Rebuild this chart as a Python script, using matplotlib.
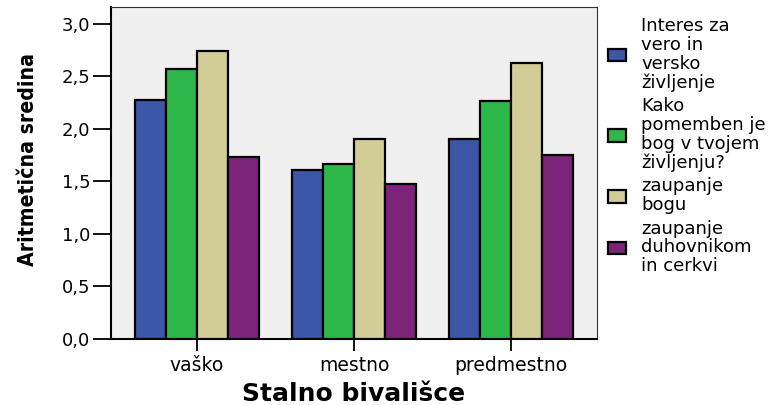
import numpy as np
import matplotlib.pyplot as plt
from matplotlib.patches import Patch
from matplotlib.ticker import FuncFormatter

categories = ["vaško", "mestno", "predmestno"]
series_names = ["Interes za\nvero in\nversko\nživljenje",
                "Kako\npomemben je\nbog v tvojem\nživljenju?",
                "zaupanje\nbogu",
                "zaupanje\nduhovnikom\nin cerkvi"]
interes = [2.28, 1.61, 1.90]
pomemben = [2.57, 1.67, 2.27]
zaupanje_bog = [2.74, 1.90, 2.63]
zaupanje_cerkev = [1.73, 1.48, 1.75]
colors = ["#3c56a8", "#2fb84a", "#d2cd96", "#7b2479"]

plt.rcParams['font.family'] = ['DejaVu Sans']

fig = plt.figure(figsize=(7.8, 4.05), dpi=100)
ax = fig.add_axes([0.1423, 0.163, 0.6231, 0.8185])
ax.set_facecolor("#f0f0f0")

x = np.arange(len(categories))
width = 0.197
all_series = [interes, pomemben, zaupanje_bog, zaupanje_cerkev]
for i, vals in enumerate(all_series):
    ax.bar(x + (i - 1.5) * width, vals, width, color=colors[i],
           edgecolor="black", linewidth=1.6, zorder=3)

ax.set_xlim(-0.548, 2.548)
ax.set_ylim(0, 3.157)
ax.set_yticks(np.arange(0, 3.01, 0.5))
ax.yaxis.set_major_formatter(FuncFormatter(lambda v, p: f"{v:.1f}".replace(".", ",")))
ax.set_xticks(x)
ax.set_xticklabels(categories)
ax.tick_params(axis="y", length=13, width=1.3, labelsize=13, pad=2)
ax.tick_params(axis="x", length=8.5, width=1.3, labelsize=13.5, pad=4)

for s in ["left", "bottom"]:
    ax.spines[s].set_linewidth(1.5)
for s in ["top", "right"]:
    ax.spines[s].set_linewidth(0.8)
    ax.spines[s].set_color("#333333")

ax.set_ylabel("Aritmetična sredina", family="DejaVu Sans", stretch="condensed",
              fontsize=15.2, fontweight="bold")
ax.yaxis.set_label_coords(-0.15, 0.54)
ax.set_xlabel("Stalno bivališce", fontsize=18, fontweight="bold", labelpad=5)

handles = [Patch(facecolor=c, edgecolor="black", linewidth=1.6) for c in colors]
leg = fig.legend(handles, series_names, loc="upper left", bbox_to_anchor=(0.77, 0.975),
                 frameon=False, fontsize=13, handlelength=1.0, handleheight=0.67,
                 handletextpad=0.85, labelspacing=0.3, borderaxespad=0)
for t in leg.get_texts():
    t.set_linespacing(1.05)

fig.savefig("out.png", dpi=100)
